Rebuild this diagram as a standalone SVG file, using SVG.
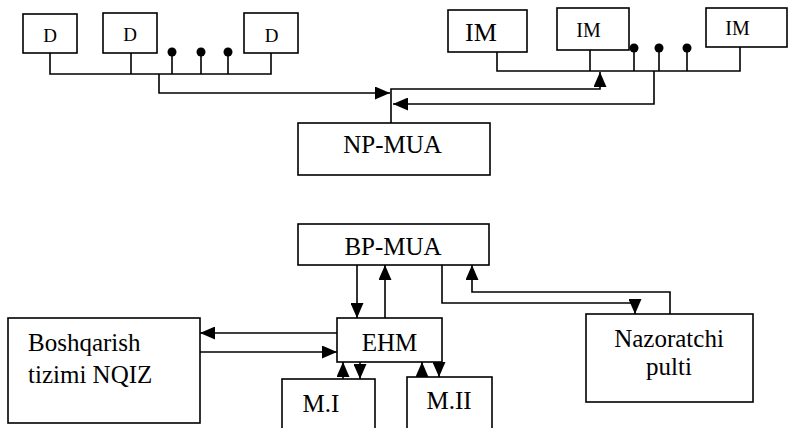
<svg xmlns="http://www.w3.org/2000/svg" width="788" height="428" viewBox="0 0 788 428">
<style>
.b{fill:#fff;stroke:#000;stroke-width:1.6}
.l{fill:none;stroke:#000;stroke-width:1.6}
text{font-family:"Liberation Serif","Times New Roman",serif;fill:#000}
.t{text-anchor:middle}
.d{fill:#000}
</style>
<defs>
<marker id="a" viewBox="0 0 15 13" refX="15" refY="6.5" markerWidth="15" markerHeight="13" markerUnits="userSpaceOnUse" orient="auto"><path d="M0,0L15,6.5L0,13z" fill="#000"/></marker>
</defs>
<rect width="788" height="428" fill="#fff"/>
<g id="d1"><rect class="b" x="23" y="14" width="54" height="39"/><text class="t" x="50" y="42" font-size="19">D</text></g>
<g id="d2"><rect class="b" x="103" y="13" width="54" height="40"/><text class="t" x="130" y="41" font-size="19">D</text></g>
<g id="d3"><rect class="b" x="244" y="13" width="54" height="40"/><text class="t" x="271.5" y="42" font-size="19">D</text></g>
<g id="im1"><rect class="b" x="448" y="10" width="79" height="42"/><text class="t" x="481" y="41" font-size="26">IM</text></g>
<g id="im2"><rect class="b" x="557" y="8" width="72" height="42"/><text class="t" x="588.5" y="37" font-size="20">IM</text></g>
<g id="im3"><rect class="b" x="706" y="8" width="81" height="39"/><text class="t" x="737.5" y="35" font-size="20">IM</text></g>
<g id="np"><rect class="b" x="298" y="123" width="192" height="52"/><text class="t" x="392.5" y="153" font-size="25">NP-MUA</text></g>
<g id="bp"><rect class="b" x="298" y="224" width="191" height="41"/><text class="t" x="393" y="255" font-size="25">BP-MUA</text></g>
<g id="ehm"><rect class="b" x="337" y="318" width="105" height="44"/><text class="t" x="389.5" y="351" font-size="25">EHM</text></g>
<g id="bosh"><rect class="b" x="8" y="318" width="192" height="105"/><text x="28" y="351" font-size="25">Boshqarish</text><text x="28" y="383" font-size="25">tizimi NQIZ</text></g>
<g id="naz"><rect class="b" x="586" y="314" width="167" height="88"/><text class="t" x="669" y="347" font-size="25">Nazoratchi</text><text class="t" x="669" y="375" font-size="25">pulti</text></g>
<g id="m1"><rect class="b" x="282" y="379" width="93" height="55"/><text class="t" x="321" y="412" font-size="25">M.I</text></g>
<g id="m2"><rect class="b" x="407" y="377" width="85" height="57"/><text class="t" x="449" y="409" font-size="25">M.II</text></g>
<g id="connectors">
<path class="l" d="M50,53V74H271V53M131,53V74M172,52V74M201,52V74M228,52V74"/>
<circle class="d" cx="172" cy="52" r="4.5"/><circle class="d" cx="201" cy="52" r="4.5"/><circle class="d" cx="228" cy="52" r="4.5"/>
<path class="l" d="M159,74V93H390" marker-end="url(#a)"/>
<path class="l" d="M497,52V71H740V47M590,50V71M634,48V71M659,48V71M687,48V71"/>
<circle class="d" cx="634" cy="48" r="4.5"/><circle class="d" cx="659" cy="48" r="4.5"/><circle class="d" cx="687" cy="48" r="4.5"/>
<path class="l" d="M391,123V89H600V72" marker-end="url(#a)"/>
<path class="l" d="M654,71V104H393" marker-end="url(#a)"/>
<path class="l" d="M357,265V318" marker-end="url(#a)"/>
<path class="l" d="M385,318V265" marker-end="url(#a)"/>
<path class="l" d="M442,265V303H635V314" marker-end="url(#a)"/>
<path class="l" d="M670,314V292H472V265" marker-end="url(#a)"/>
<path class="l" d="M337,333H200" marker-end="url(#a)"/>
<path class="l" d="M200,352H337" marker-end="url(#a)"/>
<path class="l" d="M343,379V362" marker-end="url(#a)"/>
<path class="l" d="M360,362V379" marker-end="url(#a)"/>
<path class="l" d="M422,377V362" marker-end="url(#a)"/>
<path class="l" d="M439,362V377" marker-end="url(#a)"/>
</g>
</svg>
